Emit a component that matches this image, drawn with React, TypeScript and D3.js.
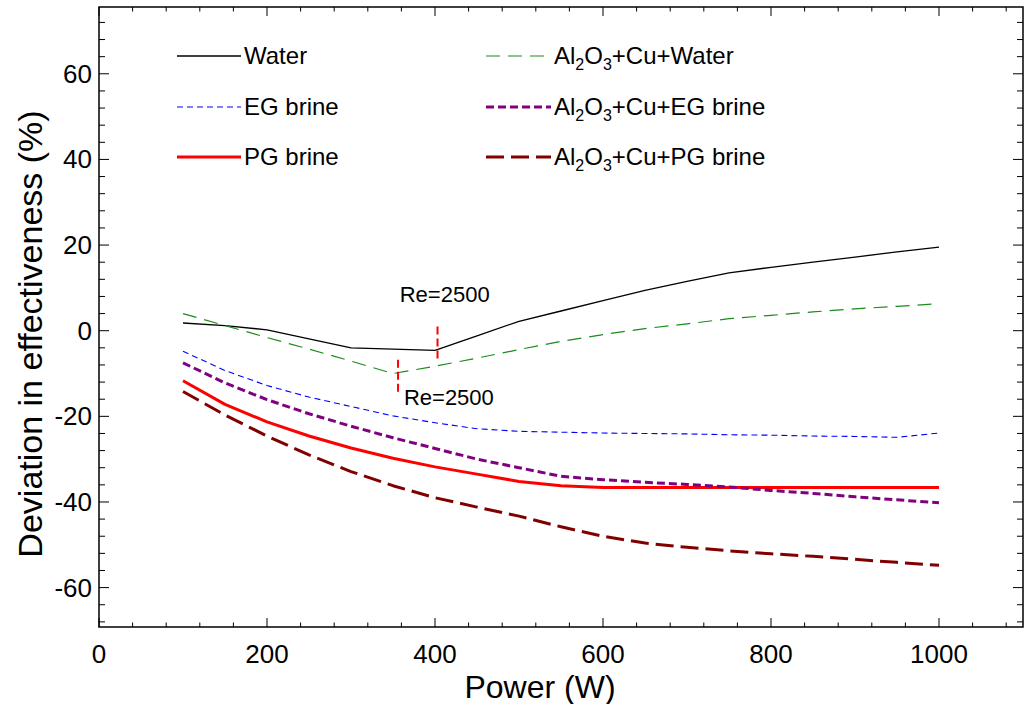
import React from "react";
import * as d3 from "d3";

const power = [100, 150, 200, 250, 300, 350, 400, 450, 500, 550, 600, 650, 700, 750, 800, 850, 900, 950, 1000];
const water = [1.8, 1.2, 0.2, -1.9, -4.0, -4.3, -4.6, -1.2, 2.2, 4.6, 7.0, 9.4, 11.5, 13.5, 14.8, 16.0, 17.2, 18.4, 19.5];
const egBrine = [-4.8, -9.3, -12.8, -15.5, -17.7, -19.9, -21.5, -22.9, -23.5, -23.7, -23.9, -24.0, -24.1, -24.3, -24.4, -24.6, -24.7, -24.9, -23.9];
const pgBrine = [-11.7, -17.2, -21.3, -24.6, -27.4, -29.8, -31.8, -33.5, -35.2, -36.2, -36.6, -36.6, -36.6, -36.6, -36.6, -36.6, -36.6, -36.6, -36.6];
const nfWater = [4.0, 1.2, -1.6, -4.3, -7.1, -10.0, -8.3, -6.4, -4.4, -2.5, -0.9, 0.5, 1.6, 2.8, 3.6, 4.4, 5.1, 5.7, 6.3];
const nfEg = [-7.5, -12.2, -16.1, -19.4, -22.3, -25.0, -27.5, -30.0, -32.0, -34.0, -34.8, -35.4, -35.9, -36.5, -37.3, -38.0, -38.8, -39.5, -40.2];
const nfPg = [-14.2, -19.7, -24.6, -29.0, -32.9, -36.2, -39.0, -41.2, -43.3, -45.8, -48.0, -49.6, -50.6, -51.4, -52.1, -52.7, -53.4, -54.1, -54.8];

const xTicks = [0, 200, 400, 600, 800, 1000];
const yTicks = [-60, -40, -20, 0, 20, 40, 60];

// Re = 2500 markers
const reMarkers = [
  { p: 403, v0: 1.0, v1: -6.8, label: "Re=2500", lp: 358, lv: 6.6 },
  { p: 356, v0: -6.8, v1: -14.6, label: "Re=2500", lp: 363, lv: -17.4 },
];

const series = [
  { name: "Water", values: water, color: "#000000", width: 1.3, dash: "none", col: 0, row: 0 },
  { name: "EG brine", values: egBrine, color: "#0000ff", width: 1.1, dash: "6,4", col: 0, row: 1 },
  { name: "PG brine", values: pgBrine, color: "#ff0000", width: 3, dash: "none", col: 0, row: 2 },
  { name: "Al2O3+Cu+Water", values: nfWater, color: "#1a8c1a", width: 1.2, dash: "14,8", col: 1, row: 0 },
  { name: "Al2O3+Cu+EG brine", values: nfEg, color: "#800080", width: 3, dash: "8,4", col: 1, row: 1 },
  { name: "Al2O3+Cu+PG brine", values: nfPg, color: "#800000", width: 3, dash: "18,7", col: 1, row: 2 },
];

const W = 1024, H = 704;
const L = 99, R = 1023, T = 7, B = 627;

function LegendLabel({ name }: { name: string }) {
  if (name.startsWith("Al2O3")) {
    const rest = name.slice(5);
    return (
      <>
        <tspan>Al</tspan>
        <tspan fontSize={16} dy={6}>2</tspan>
        <tspan dy={-6}>O</tspan>
        <tspan fontSize={16} dy={6}>3</tspan>
        <tspan dy={-6}>{rest}</tspan>
      </>
    );
  }
  return <>{name}</>;
}

export default function App() {
  const x = d3.scaleLinear().domain([0, 1100]).range([L, R]);
  const y = d3.scaleLinear().domain([-69.2, 75.6]).range([B, T]);
  const line = d3
    .line<[number, number]>()
    .x((d) => x(d[0]))
    .y((d) => y(d[1]));

  const xMinor = d3.range(0, 1101, 40);
  const yMinor = d3.range(-68, 76, 4);

  const legendCols = [
    { x1: 177, x2: 241, tx: 244 },
    { x1: 486, x2: 551, tx: 554 },
  ];
  const legendRows = [56, 107, 157];

  return (
    <svg width={W} height={H} style={{ position: "absolute", left: 0, top: 0, background: "#fff" }} fontFamily="'Liberation Sans', Arial, sans-serif">
      <rect x={0} y={0} width={W} height={H} fill="#fff" />
      {xMinor.map((t) => {
        const major = t % 200 === 0 && t <= 1000;
        const len = major ? 9 : 4.5;
        return (
          <g key={"xm" + t} stroke="#000" strokeWidth={1}>
            <line x1={x(t)} x2={x(t)} y1={B} y2={B - len} />
            <line x1={x(t)} x2={x(t)} y1={T} y2={T + len} />
          </g>
        );
      })}
      {yMinor.map((t) => {
        const major = t % 20 === 0;
        const len = major ? 10 : 6;
        return (
          <g key={"ym" + t} stroke="#000" strokeWidth={1}>
            <line x1={L} x2={L + len} y1={y(t)} y2={y(t)} />
            <line x1={R} x2={R - len} y1={y(t)} y2={y(t)} />
          </g>
        );
      })}
      <rect x={L} y={T} width={R - L} height={B - T} fill="none" stroke="#000" strokeWidth={1.5} />
      {xTicks.map((t) => (
        <text key={"xl" + t} x={x(t)} y={663} fontSize={26} textAnchor="middle" fill="#000">
          {t}
        </text>
      ))}
      {yTicks.map((t) => (
        <text key={"yl" + t} x={92} y={y(t) + 9} fontSize={26} textAnchor="end" fill="#000">
          {t}
        </text>
      ))}
      <text x={540} y={698} fontSize={32} textAnchor="middle" fill="#000">
        Power (W)
      </text>
      <text transform={`translate(42,334) rotate(-90)`} fontSize={34} textAnchor="middle" fill="#000">
        Deviation in effectiveness (%)
      </text>
      {series.map((s) => (
        <path
          key={s.name}
          d={line(power.map((p, i) => [p, s.values[i]] as [number, number])) || ""}
          fill="none"
          stroke={s.color}
          strokeWidth={s.width}
          strokeDasharray={s.dash}
          strokeLinejoin="round"
        />
      ))}
      {reMarkers.map((m, i) => (
        <g key={"re" + i}>
          <line x1={x(m.p)} x2={x(m.p)} y1={y(m.v0)} y2={y(m.v1)} stroke="#ff0000" strokeWidth={2} strokeDasharray="8,4" />
          <text x={x(m.lp)} y={y(m.lv)} fontSize={22} fill="#000">
            {m.label}
          </text>
        </g>
      ))}
      {series.map((s) => {
        const c = legendCols[s.col];
        const yy = legendRows[s.row];
        return (
          <g key={"lg" + s.name}>
            <line x1={c.x1} x2={c.x2} y1={yy} y2={yy} stroke={s.color} strokeWidth={s.width} strokeDasharray={s.dash} />
            <text x={c.tx} y={yy + 8} fontSize={24} fill="#000">
              <LegendLabel name={s.name} />
            </text>
          </g>
        );
      })}
    </svg>
  );
}
